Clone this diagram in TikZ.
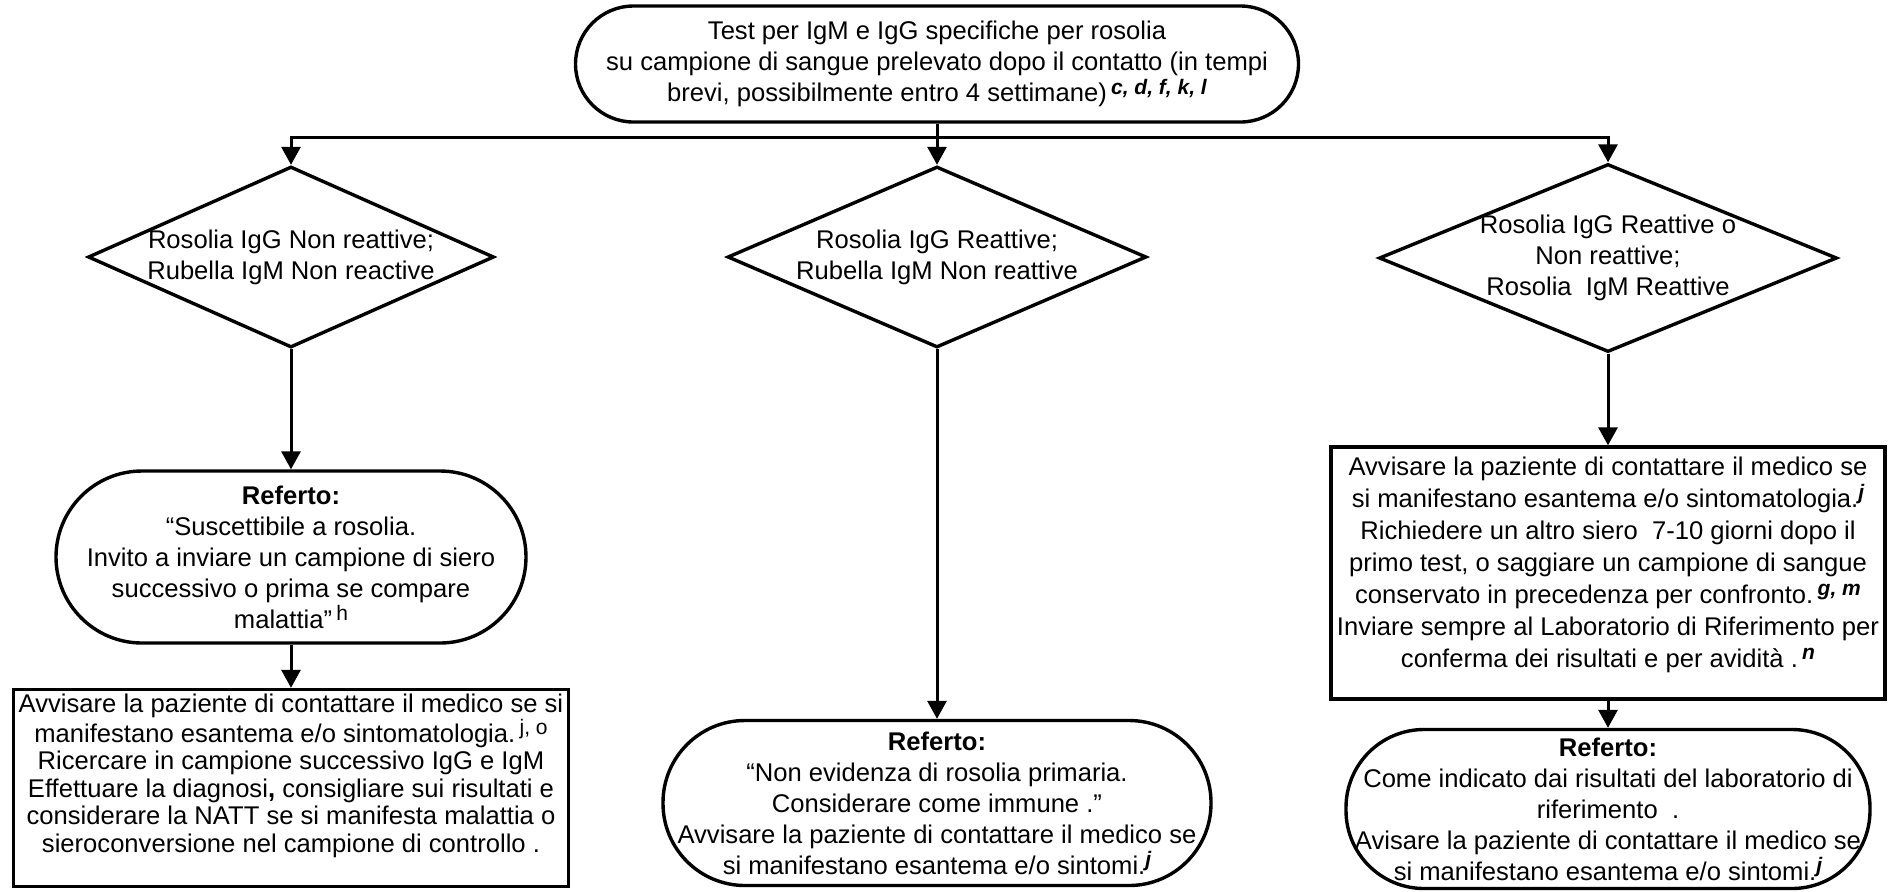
\documentclass[tikz,border=0pt]{standalone}
\usepackage{fontspec}
\setmainfont{Liberation Sans}
\usetikzlibrary{shapes,arrows.meta,positioning,calc}

\newcommand{\nota}[1]{\raisebox{0.55ex}{\fontsize{10.5}{10.5}\selectfont\bfseries\itshape #1}}
\newcommand{\notan}[1]{\raisebox{0.55ex}{\fontsize{10.5}{10.5}\selectfont #1}}

\tikzset{
  base/.style={draw, line width=1.7pt, align=center, font=\fontsize{12.8}{15.5}\selectfont},
  term/.style={base, rectangle, rounded corners=#1, inner sep=0pt},
  decision/.style={base, diamond, aspect=2.2, inner sep=-3pt},
  process/.style={base, rectangle, inner sep=2pt},
  link/.style={line width=1.5pt},
}

\begin{document}
\begin{tikzpicture}[x=0.5pt, y=-0.5pt, >={Triangle[length=9pt,width=9.5pt]}]
    \useasboundingbox (0,0) rectangle (1890,891);

    \node (test) [term=29pt, minimum width=361.5pt, minimum height=58pt] at (937,64)
        {Test per IgM e IgG specifiche per rosolia\\
         su campione di sangue prelevato dopo il contatto (in tempi\\
         brevi, possibilmente entro 4 settimane)\,\nota{c, d, f, k, l}};
    \coordinate (split) at (937,137);

    \node (dl) [decision, minimum width=203pt, minimum height=90.5pt] at (291,257)
        {Rosolia IgG Non reattive;\\Rubella IgM Non reactive};
    \node (dm) [decision, minimum width=209.5pt, minimum height=90.5pt] at (937,257)
        {Rosolia IgG Reattive;\\Rubella IgM Non reattive};
    \node (dr) [decision, minimum width=229pt, minimum height=94pt] at (1608,258)
        {Rosolia IgG Reattive o\\Non reattive;\\Rosolia~~IgM Reattive};

    % left branch
    \node (refl) [term=43pt, minimum width=235pt, minimum height=86pt] at (291,557)
        {\textbf{Referto:}\\``Suscettibile a rosolia.\\Invito a inviare un campione di siero\\
         successivo o prima se compare\\malattia''\,\notan{h}};
    \node (avvl) [process, minimum width=277.5pt, minimum height=98.5pt, text depth=15pt,
        font=\fontsize{12.8}{13.8}\selectfont] at (291,788)
        {Avvisare la paziente di contattare il medico se si\\
         manifestano esantema e/o sintomatologia.\,\notan{j, o}\\
         Ricercare in campione successivo IgG e IgM\\
         Effettuare la diagnosi\textbf{,} consigliare sui risultati e\\
         considerare la NATT se si manifesta malattia o\\
         sieroconversione nel campione di controllo .};

    % middle branch
    \node (refm) [term=41pt, minimum width=274pt, minimum height=82.5pt] at (937,803)
        {\textbf{Referto:}\\``Non evidenza di rosolia primaria.\\Considerare come immune .''\\
         Avvisare la paziente di contattare il medico se\\si manifestano esantema e/o sintomi.\nota{j}};

    % right branch
    \node (avvr) [process, minimum width=277pt, minimum height=126pt, text depth=11pt,
        font=\fontsize{12.8}{16}\selectfont] at (1608,573)
        {Avvisare la paziente di contattare il medico se\\
         si manifestano esantema e/o sintomatologia.\nota{j}\\
         Richiedere un altro siero~~7-10 giorni dopo il\\
         primo test, o saggiare un campione di sangue\\
         conservato in precedenza per confronto.\,\nota{g, m}\\
         Inviare sempre al Laboratorio di Riferimento per\\
         conferma dei risultati e per avidità .\,\nota{n}};
    \node (refr) [term=39pt, minimum width=262pt, minimum height=79.5pt] at (1608,809)
        {\textbf{Referto:}\\Come indicato dai risultati del laboratorio di\\riferimento~~.\\
         Avisare la paziente di contattare il medico se\\si manifestano esantema e/o sintomi.\nota{j}};

    \draw[link] (test) -- (split);
    \draw[link,->] (split) -| (dl.north);
    \draw[link,->] (split) -- (dm.north);
    \draw[link,->] (split) -| (dr.north);
    \draw[link,->] (dl) -- (refl);
    \draw[link,->] (refl) -- (avvl);
    \draw[link,->] (dm) -- (refm);
    \draw[link,->] (dr) -- (avvr);
    \draw[link,->] (avvr) -- (refr);
\end{tikzpicture}
\end{document}
